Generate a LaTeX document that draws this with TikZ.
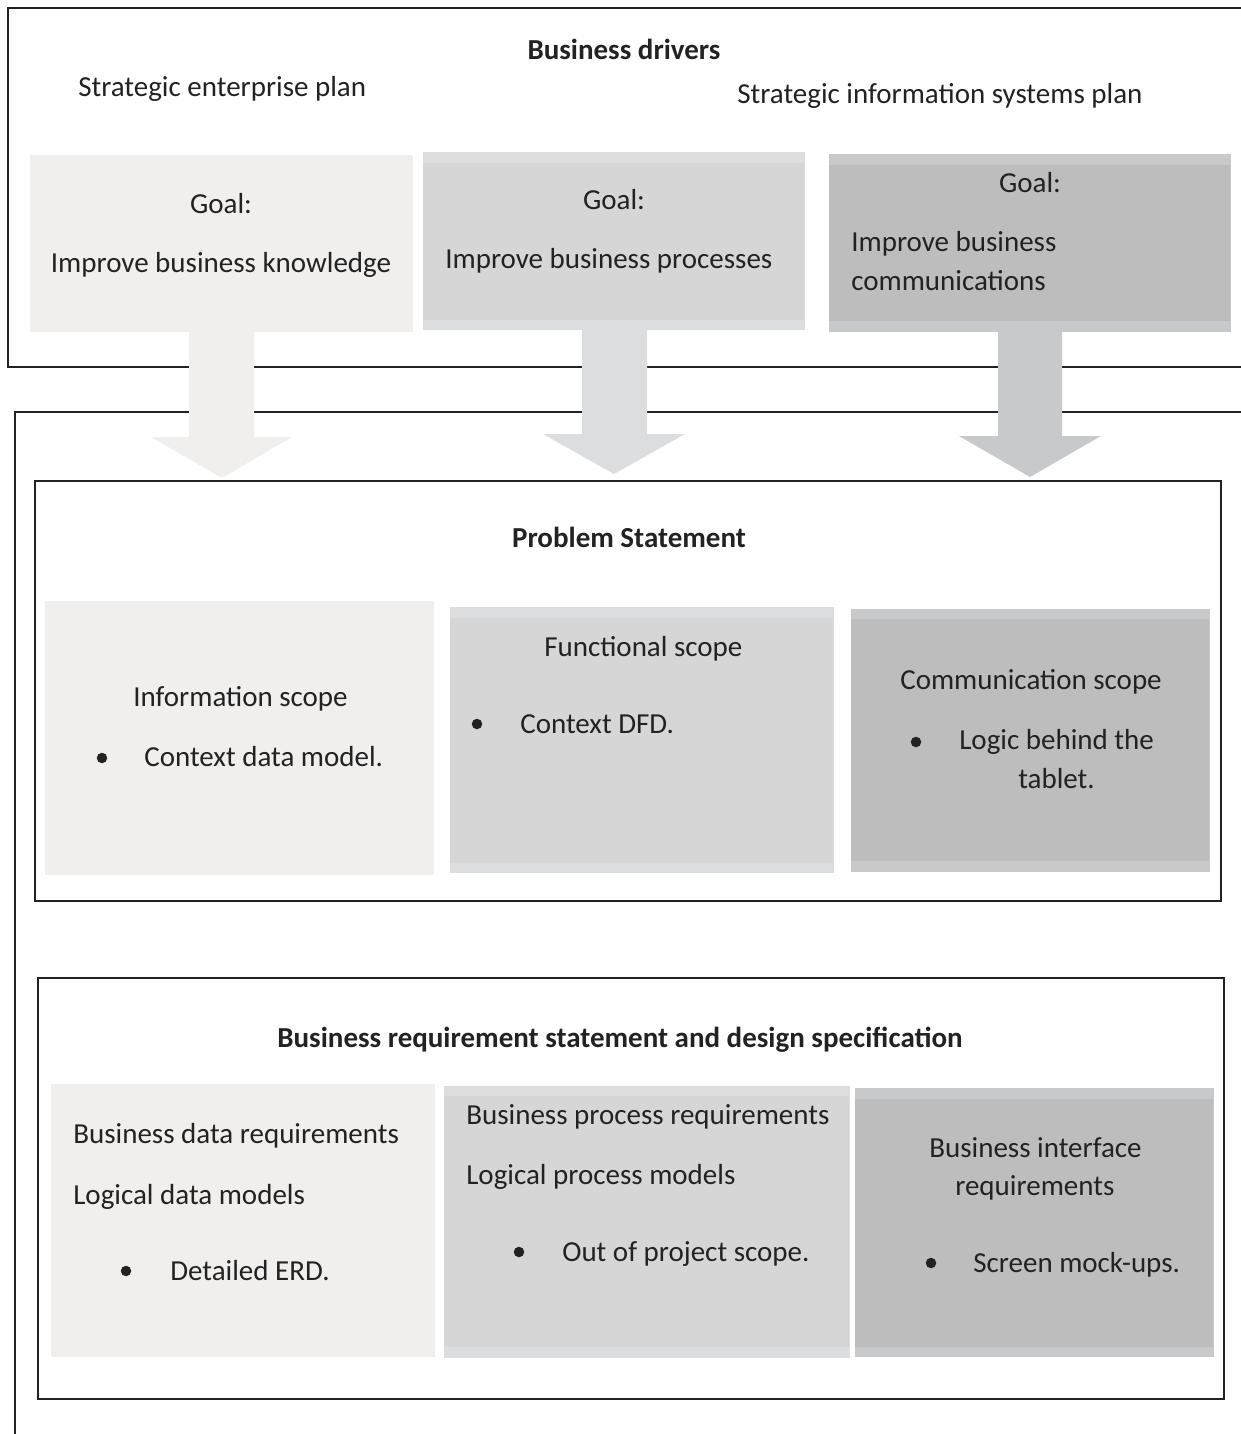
\documentclass[tikz,border=0pt]{standalone}
\usepackage{fontspec}
\setmainfont{Carlito}
\definecolor{palegray}{HTML}{F0EFEE}
\definecolor{midband}{HTML}{DCDDDE}
\definecolor{midgray}{HTML}{D6D6D6}
\definecolor{deepband}{HTML}{C8C9CA}
\definecolor{deepgray}{HTML}{BDBDBD}
\definecolor{inkgray}{HTML}{222222}
\begin{document}
\begin{tikzpicture}[x=1pt, y=-1pt, line width=2.6pt,
  every node/.style={inner sep=0pt, text=inkgray, font=\fontsize{29}{39}\selectfont},
  title/.style={font=\fontsize{29}{39}\selectfont\bfseries},
  dot/.style={circle, fill=inkgray, minimum size=10.5pt}]
  \useasboundingbox (0,0) rectangle (1241,1434);
  \clip (0,0) rectangle (1241,1434);
  % frames
  \draw[inkgray] (1260,8) -- (8,8) -- (8,367) -- (1260,367);
  \draw[inkgray] (15,1450) -- (15,412) -- (1260,412);
  \draw[inkgray] (35,481) rectangle (1221,901);
  \draw[inkgray] (38,978) rectangle (1224,1399);
  % goal panels
  \fill[palegray] (30,155) rectangle (413,332);
  \fill[midband] (423,152) rectangle (805,330);
  \fill[midgray] (423,163) rectangle (804,320);
  \fill[deepband] (829,154) rectangle (1231,332);
  \fill[deepgray] (829,165) rectangle (1230,321);
  % block arrows
  \fill[palegray] (189,332) -- (254,332) -- (254,437) -- (292,437) -- (222,478) -- (151,437) -- (189,437) -- cycle;
  \fill[midband] (582,330) -- (647,330) -- (647,434) -- (685,434) -- (614,474) -- (543,434) -- (582,434) -- cycle;
  \fill[deepband] (998,332) -- (1062,332) -- (1062,436) -- (1101,436) -- (1030,477) -- (959,436) -- (998,436) -- cycle;
  % scope panels
  \fill[palegray] (45,601) rectangle (434,875);
  \fill[midband] (450,607) rectangle (834,873);
  \fill[midgray] (450,618) rectangle (833,863);
  \fill[deepband] (851,609) rectangle (1210,872);
  \fill[deepgray] (851,619) rectangle (1209,861);
  % requirement panels
  \fill[palegray] (51,1084) rectangle (435,1357);
  \fill[midband] (444,1086) rectangle (850,1358);
  \fill[midgray] (444,1096) rectangle (849,1347);
  \fill[deepband] (855,1088) rectangle (1214,1357);
  \fill[deepgray] (855,1099) rectangle (1213,1347);
  % business drivers
  \node[title, anchor=base] (drivers) at (624,60) {Business drivers};
  \node[anchor=base west] (enterprise) at (77,97) {Strategic enterprise plan};
  \node[anchor=base west] (sisplan) at (736,104) {Strategic information systems plan};
  \node[anchor=base] (goalA) at (221,213) {Goal:};
  \node[anchor=base] (goalAtext) at (221,272) {Improve business knowledge};
  \node[anchor=base] (goalB) at (614,210) {Goal:};
  \node[anchor=base west] (goalBtext) at (444,268) {Improve business processes};
  \node[anchor=base] (goalC) at (1030,193) {Goal:};
  \node[anchor=base west] (goalCtext) at (850,251) {Improve business};
  \node[anchor=base west] (goalCmore) at (850,290) {communications};
  % problem statement
  \node[title, anchor=base] (problem) at (629,547) {Problem Statement};
  \node[anchor=base west] (infoscope) at (132,706) {Information scope};
  \node[dot] (infodot) at (102,758) {};
  \node[anchor=base west] (infoitem) at (143,766) {Context data model.};
  \node[anchor=base west] (funcscope) at (543,656) {Functional scope};
  \node[dot] (funcdot) at (477,724) {};
  \node[anchor=base west] (funcitem) at (519,733) {Context DFD.};
  \node[anchor=base west] (commscope) at (899,689) {Communication scope};
  \node[dot] (commdot) at (916,742) {};
  \node[anchor=base west] (commitem) at (958,749) {Logic behind the};
  \node[anchor=base west] (commmore) at (1017,788) {tablet.};
  % requirement statement
  \node[title, anchor=base] (reqstmt) at (620,1047) {Business requirement statement and design specification};
  \node[anchor=base west] (datareq) at (72,1143) {Business data requirements};
  \node[anchor=base west] (datamodel) at (72,1204) {Logical data models};
  \node[dot] (datadot) at (126,1271) {};
  \node[anchor=base west] (dataitem) at (169,1280) {Detailed ERD.};
  \node[anchor=base west] (procreq) at (465,1124) {Business process requirements};
  \node[anchor=base west] (procmodel) at (465,1184) {Logical process models};
  \node[dot] (procdot) at (519,1252) {};
  \node[anchor=base west] (procitem) at (561,1261) {Out of project scope.};
  \node[anchor=base west] (ifreq) at (928,1157) {Business interface};
  \node[anchor=base west] (ifmore) at (954,1195) {requirements};
  \node[dot] (ifdot) at (931,1263) {};
  \node[anchor=base west] (ifitem) at (972,1272) {Screen mock-ups.};
\end{tikzpicture}
\end{document}
